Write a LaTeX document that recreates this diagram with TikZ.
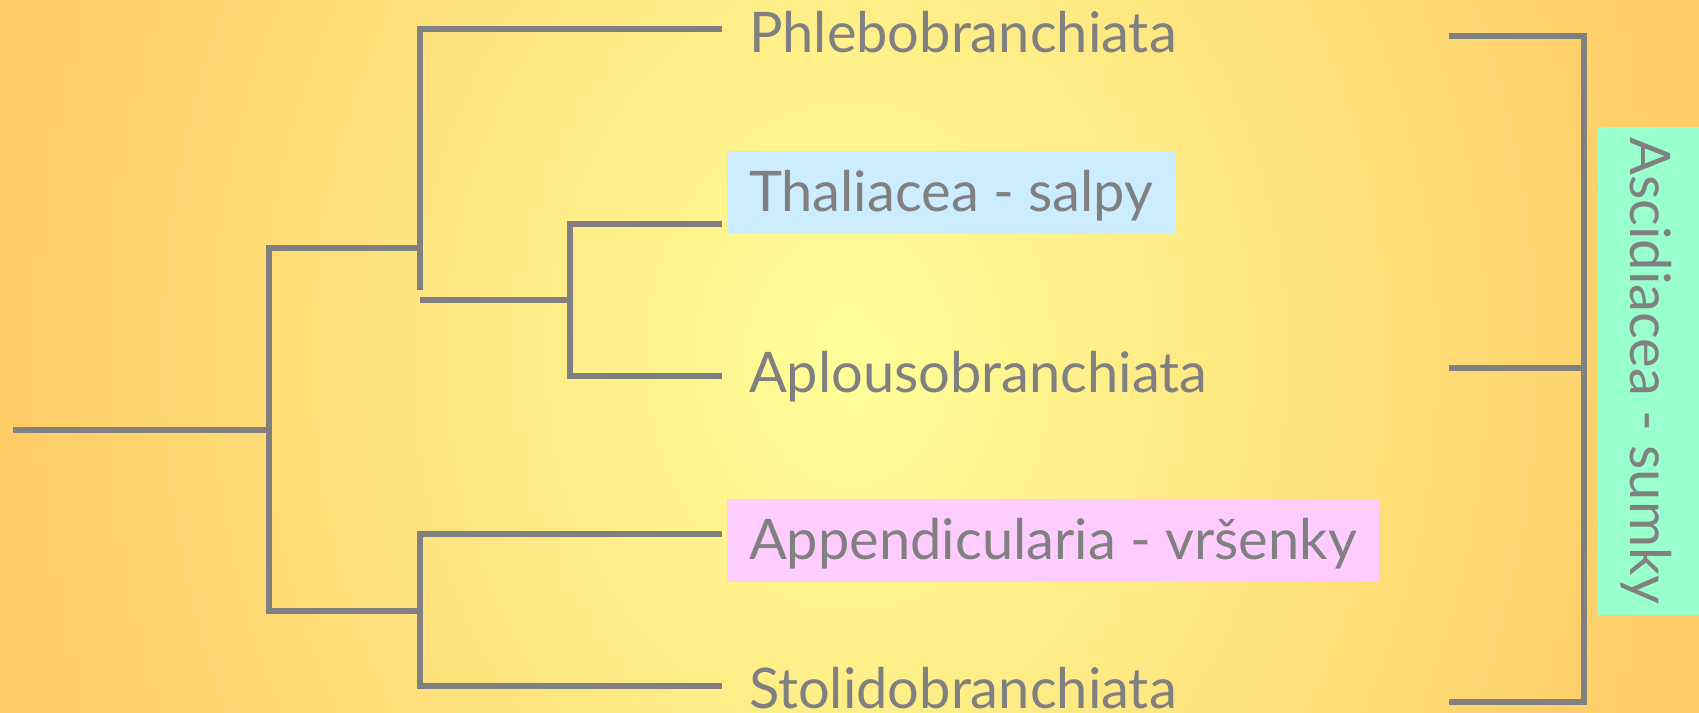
\documentclass[tikz,border=0pt]{standalone}
\usepackage{fontspec}
\setmainfont{Lato}
\usepackage{tikz}
\usetikzlibrary{positioning}
\definecolor{bgorange}{HTML}{FFCC66}
\definecolor{bgyellow}{HTML}{FFFF99}
\definecolor{linegray}{HTML}{808080}
\definecolor{thalblue}{HTML}{CCECFF}
\definecolor{appink}{HTML}{FFCCFF}
\definecolor{ascgreen}{HTML}{99FFCC}
\tikzset{
	branch/.style = {draw=linegray, line width=6pt},
	taxon/.style = {anchor=base west, inner xsep=22pt, inner ysep=15pt, outer sep=5pt,
		text height=45pt, text depth=8pt, text=linegray,
		font=\fontsize{56}{62}\selectfont},% jmeno taxonu
	taxon_b/.style = {taxon, fill=thalblue},% salpy
	taxon_p/.style = {taxon, fill=appink},% vrsenky
	taxon_g/.style = {taxon, fill=ascgreen, anchor=center, rotate=-90,
		inner sep=0pt, outer sep=0pt, minimum width=488pt, minimum height=101pt}% sumky
}

\begin{document}
\begin{tikzpicture}[x=1pt, y=-1pt]
\useasboundingbox (0,0) rectangle (1699,712);
\shade[inner color=bgyellow, outer color=bgorange] (0,-700) rectangle (1699,1412);

\coordinate (root) at (13,430);
\coordinate (n0) at (269,430);
\coordinate (n1) at (420,248);
\coordinate (n1_end) at (420,290);
\coordinate (n2) at (570,300);
\coordinate (n3) at (420,611);
\coordinate (t1) at (722,29);
\coordinate (t2) at (722,224);
\coordinate (t3) at (722,376);
\coordinate (t4) at (722,534);
\coordinate (t5) at (722,686);
\coordinate (b1) at (1449,36);
\coordinate (b2) at (1449,368);
\coordinate (b3) at (1449,702);
\coordinate (bm) at (1584,368);

\node [taxon] (phleb) at (722,52) {Phlebobranchiata};
\node [taxon_b] (thal) at (722,211) {Thaliacea - salpy};
\node [taxon] (aplou) at (722,392) {Aplousobranchiata};
\node [taxon_p] (appen) at (722,559) {Appendicularia - vršenky};
\node [taxon] (stoli) at (722,708) {Stolidobranchiata};
\node [taxon_g] (ascid) at (1648.5,371) {Ascidiacea - sumky};

\draw [branch] (root) -- (n0);
\draw [branch] (n1) -| (n0) |- (n3);
\draw [branch] (t1) -| (n1_end);
\draw [branch] (n1 |- n2) -- (n2);
\draw [branch] (t2) -| (n2) |- (t3);
\draw [branch] (t4) -| (n3) |- (t5);
\draw [branch] (b1) -| (bm) |- (b3);
\draw [branch] (b2) -- (bm);
\end{tikzpicture}
\end{document}
